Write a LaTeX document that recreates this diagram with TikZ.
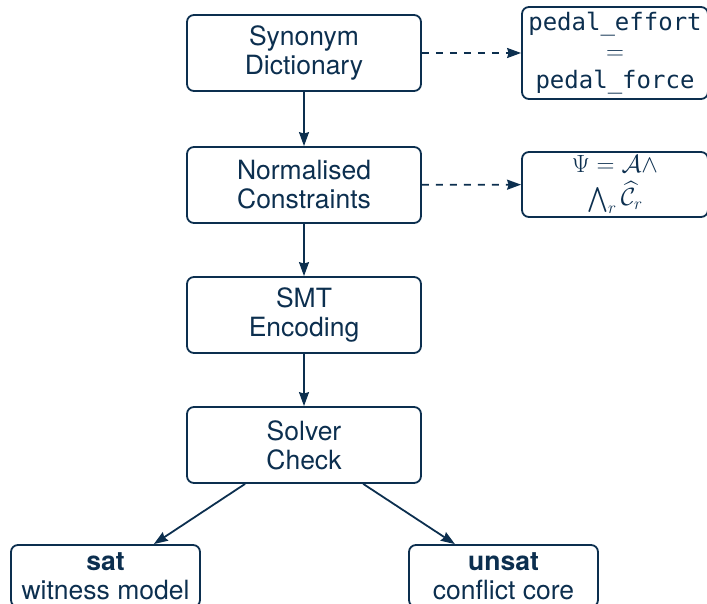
\documentclass[tikz,border=0pt]{standalone}
\usepackage{fontspec}
\usepackage{amsmath,amssymb}
\setsansfont{TeX Gyre Heros}
\setmonofont{DejaVu Sans Mono}
\renewcommand{\familydefault}{\sfdefault}
\usetikzlibrary{arrows.meta}
\definecolor{navy}{HTML}{0C2F4F}
\tikzset{
  stepbox/.style={draw=navy, line width=1.8pt, rounded corners=7pt, text=navy,
    minimum width=234pt, minimum height=76pt, align=center, inner sep=2pt,
    font=\fontsize{26.5}{29}\selectfont},
  outbox/.style={stepbox, minimum width=189pt, minimum height=62pt},
  notebox/.style={stepbox, minimum width=186pt},
  flow/.style={draw=navy, line width=1.8pt, -{Stealth[length=14pt,width=10pt,inset=1.5pt]}},
  aside/.style={flow, dash pattern=on 7pt off 7pt},
}
\begin{document}
\begin{tikzpicture}[x=1pt,y=-1pt]
\useasboundingbox (0,0) rectangle (707,604);
\node[stepbox] (syn) at (304,53) {Synonym\\Dictionary};
\node[stepbox] (norm) at (304,185) {Normalised\\Constraints};
\node[stepbox] (smt) at (304,315) {SMT\\Encoding};
\node[stepbox] (solver) at (304,445) {Solver\\Check};
\node[outbox] (sat) at (105.5,576) {\textbf{sat}\\witness model};
\node[outbox] (unsat) at (503.5,576) {\textbf{unsat}\\conflict core};
\node[notebox, minimum height=92pt, font=\fontsize{24}{29}\selectfont\ttfamily] (pedal) at (615,53)
  {pedal\_effort\\$=$\\pedal\_force};
\node[notebox, minimum height=65pt, font=\fontsize{25}{33}\selectfont] (psi) at (615,184.5)
  {$\Psi=\mathcal{A}\wedge$\\$\textstyle\bigwedge_r\widehat{\mathcal{C}}_r$};
\draw[flow] (syn) -- (norm);
\draw[flow] (norm) -- (smt);
\draw[flow] (smt) -- (solver);
\draw[flow] (solver) -- (sat);
\draw[flow] (solver) -- (unsat);
\draw[aside] (syn) -- (pedal);
\draw[aside] (norm) -- (psi);
\end{tikzpicture}
\end{document}
